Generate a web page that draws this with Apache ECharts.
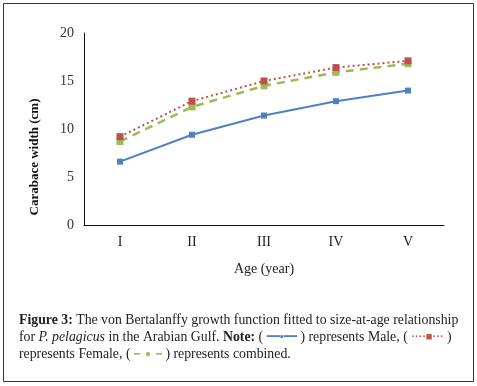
<!DOCTYPE html>
<html>
<head>
<meta charset="utf-8">
<script src="https://cdn.jsdelivr.net/npm/echarts@6/dist/echarts.min.js"></script>
<style>
  html, body { margin: 0; padding: 0; background: #fff; }
  #chart { width: 477px; height: 386px; }
</style>
</head>
<body>
<div id="chart"></div>
<script>
// 연령 (로마 숫자)
var ages = ['I', 'II', 'III', 'IV', 'V']
var maleWidth = [6.6, 9.4, 11.4, 12.9, 14.0]
var femaleWidth = [9.2, 12.9, 15.0, 16.4, 17.1]
var combinedWidth = [8.7, 12.3, 14.5, 15.9, 16.8]
var yTicks = { min: 0, max: 20, interval: 5 }

var serif = '"Liberation Serif", "DejaVu Serif", serif'
var capSize = 13.8
var chart = echarts.init(document.getElementById('chart'))

var option = {
  backgroundColor: '#fff',
  animation: false,
  textStyle: { fontFamily: serif },
  grid: { left: 84, top: 33, right: 33, bottom: 161 },
  xAxis: {
    type: 'category',
    data: ages,
    boundaryGap: true,
    name: 'Age (year)',
    nameLocation: 'middle',
    nameGap: 37,
    nameTextStyle: { fontFamily: serif, fontSize: 14, color: '#222' },
    axisLine: { lineStyle: { color: '#111', width: 1 } },
    axisTick: { show: false },
    axisLabel: { fontFamily: serif, fontSize: 14, color: '#222', margin: 10 }
  },
  yAxis: {
    type: 'value',
    min: yTicks.min,
    max: yTicks.max,
    interval: yTicks.interval,
    axisLine: { show: true, lineStyle: { color: '#111', width: 1 } },
    axisTick: { show: false },
    splitLine: { show: false },
    axisLabel: { fontFamily: serif, fontSize: 14, color: '#333', margin: 10 }
  },
  series: [
    {
      name: 'Male',
      type: 'line',
      data: maleWidth,
      symbol: 'rect',
      symbolSize: 6,
      lineStyle: { color: '#4f81bd', width: 2 },
      itemStyle: { color: '#4f81bd' }
    },
    {
      name: 'Combined',
      type: 'line',
      data: combinedWidth,
      symbol: 'rect',
      symbolSize: 7,
      lineStyle: { color: '#9bbb59', width: 2.5, type: [8, 6] },
      itemStyle: { color: '#9bbb59' }
    },
    {
      name: 'Female',
      type: 'line',
      data: femaleWidth,
      symbol: 'rect',
      symbolSize: 7,
      lineStyle: { color: '#c0504d', width: 2, type: [2, 3] },
      itemStyle: { color: '#c0504d' }
    }
  ],
  graphic: [
    {
      type: 'rect',
      shape: { x: 3.5, y: 3.5, width: 470, height: 378 },
      style: { fill: 'none', stroke: '#333', lineWidth: 1 }
    },
    {
      type: 'text',
      x: 35,
      y: 157,
      rotation: Math.PI / 2,
      style: {
        text: 'Carabace width (cm)',
        fontFamily: serif,
        fontSize: 13,
        fontWeight: 'bold',
        fill: '#111',
        align: 'center',
        verticalAlign: 'middle'
      }
    },
    {
      type: 'text',
      x: 19,
      y: 320,
      style: {
        text: '{b|Figure 3:} The von Bertalanffy growth function fitted to size-at-age relationship',
        fontFamily: serif,
        fontSize: capSize,
        fill: '#222',
        verticalAlign: 'middle',
        rich: { b: { fontWeight: 'bold', fontFamily: serif, fontSize: capSize, fill: '#222' } }
      }
    },
    {
      type: 'text',
      x: 19,
      y: 337,
      style: {
        text: 'for {i|P. pelagicus} in the Arabian Gulf. {b|Note:} ( {m|━━▪━━} ) represents Male, ( {f|····■···} )',
        fontFamily: serif,
        fontSize: capSize,
        fill: '#222',
        verticalAlign: 'middle',
        rich: {
          i: { fontStyle: 'italic', fontFamily: serif, fontSize: capSize, fill: '#222' },
          b: { fontWeight: 'bold', fontFamily: serif, fontSize: capSize, fill: '#222' },
          m: { fontFamily: serif, fontSize: 11, fill: '#4f81bd' },
          f: { fontFamily: serif, fontSize: 11, fill: '#c0504d', fontWeight: 'bold' }
        }
      }
    },
    {
      type: 'text',
      x: 19,
      y: 354,
      style: {
        text: 'represents Female, ( {c|━  ●  ━} ) represents combined.',
        fontFamily: serif,
        fontSize: capSize,
        fill: '#222',
        verticalAlign: 'middle',
        rich: {
          c: { fontFamily: serif, fontSize: 10, fill: '#9bbb59' }
        }
      }
    }
  ]
}

chart.setOption(option)
</script>
</body>
</html>
